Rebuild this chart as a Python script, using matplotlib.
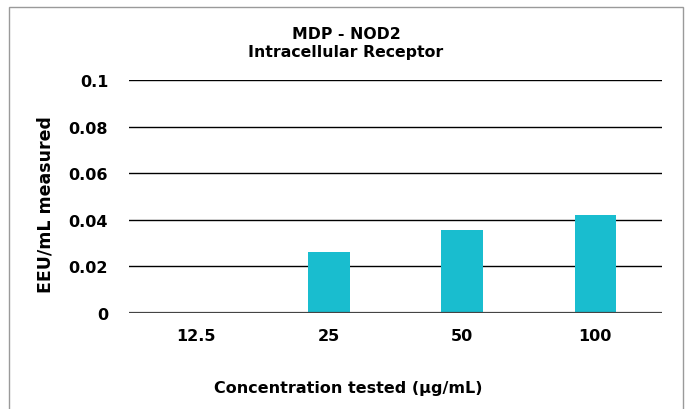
import matplotlib
matplotlib.use("Agg")
import matplotlib.pyplot as plt
from matplotlib.patches import Rectangle

categories = ["12.5", "25", "50", "100"]
values = [0.0, 0.026, 0.0355, 0.042]
yticks = [0, 0.02, 0.04, 0.06, 0.08, 0.1]
ytick_labels = ["0", "0.02", "0.04", "0.06", "0.08", "0.1"]

title = "MDP - NOD2\nIntracellular Receptor"
xlabel = "Concentration tested (µg/mL)"
ylabel = "EEU/mL measured"
bar_color = "#19BDCF"

fig = plt.figure(figsize=(6.87, 4.10), dpi=100)
ax = fig.add_axes([129 / 687, 1 - 314 / 410, 533 / 687, 233 / 410])

x = list(range(len(categories)))
ax.bar(x, values, width=0.31, color=bar_color, zorder=3)

ax.set_xlim(-0.5, len(categories) - 0.5)
ax.set_ylim(0, 0.1)
ax.set_yticks(yticks)
ax.set_yticklabels(ytick_labels)
ax.set_xticks(x)
ax.set_xticklabels(categories)
ax.grid(axis="y", color="black", linewidth=1.0, zorder=0)
ax.set_axisbelow(True)

for s in ax.spines.values():
    s.set_visible(False)
ax.axhline(0, color="#444444", linewidth=1.6, zorder=4)
ax.tick_params(axis="both", length=0, labelsize=11.5)
ax.tick_params(axis="y", pad=15)
ax.tick_params(axis="x", pad=11)
for lbl in ax.get_xticklabels() + ax.get_yticklabels():
    lbl.set_fontweight("bold")
    lbl.set_family("DejaVu Sans")

fig.text(346 / 687, 1 - 43.5 / 410, title, ha="center", va="center",
         fontsize=11.3, fontweight="bold", family="DejaVu Sans",
         linespacing=1.3)
fig.text(348 / 687, 1 - 389 / 410, xlabel, ha="center", va="center",
         fontsize=11.5, fontweight="bold", family="DejaVu Sans")
fig.text(46 / 687, 1 - 205 / 410, ylabel, ha="center", va="center",
         rotation=90, fontsize=12.5, fontweight="bold", family="DejaVu Sans")

fig.patches.append(Rectangle((9 / 687, -0.02), 674 / 687, 1 - 8 / 410 + 0.02,
                             transform=fig.transFigure, fill=False,
                             edgecolor="#9a9a9a", linewidth=1.0))

fig.savefig("out.png", dpi=100)
